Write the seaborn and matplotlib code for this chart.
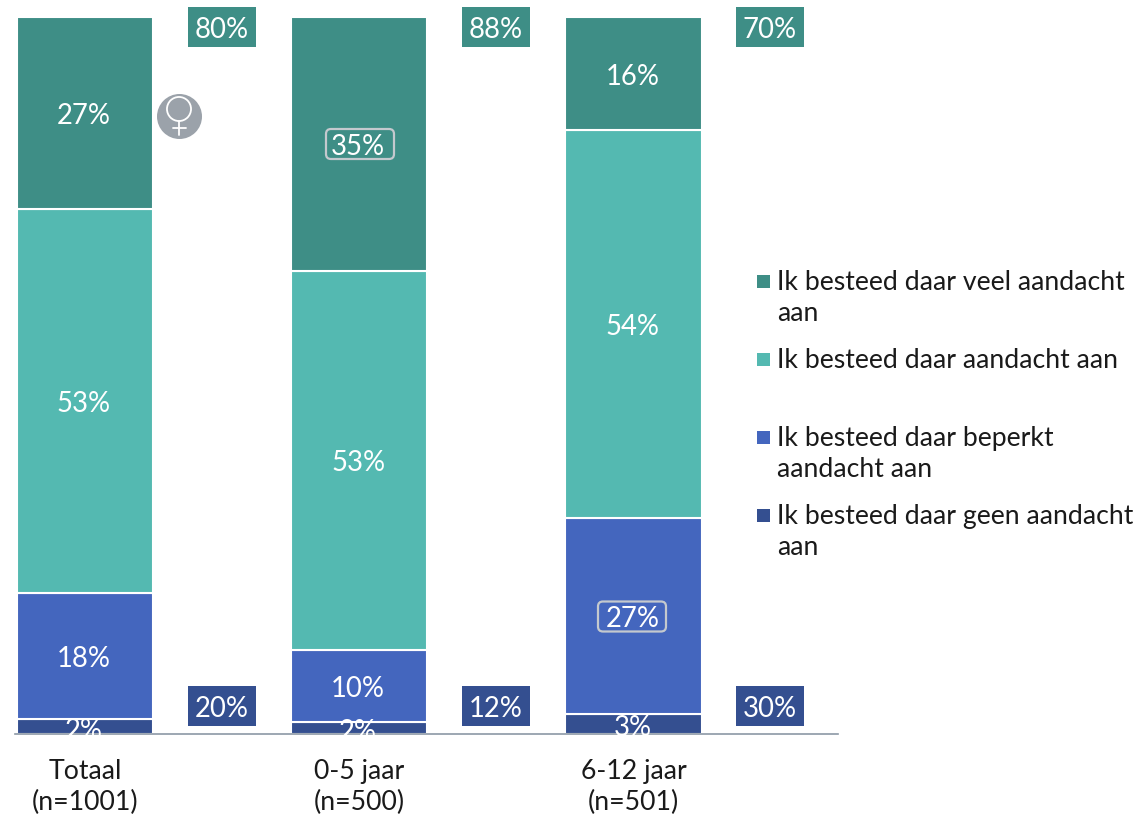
import numpy as np
import matplotlib
matplotlib.use("Agg")
import matplotlib.pyplot as plt
from matplotlib.patches import FancyBboxPatch, Rectangle
from matplotlib.transforms import IdentityTransform
import seaborn as sns

# Data (heights in %, printed labels are the rounded ones)
groups = ["Totaal\n(n=1001)", "0-5 jaar\n(n=500)", "6-12 jaar\n(n=501)"]
geen = [2.1, 1.7, 2.8]
beperkt = [17.6, 10.0, 27.3]
aandacht = [53.5, 52.9, 54.1]
veel = [26.8, 35.4, 15.8]
geen_labels = ["2%", "2%", "3%"]
beperkt_labels = ["18%", "10%", "27%"]
aandacht_labels = ["53%", "53%", "54%"]
veel_labels = ["27%", "35%", "16%"]
top_totals = ["80%", "88%", "70%"]
bottom_totals = ["20%", "12%", "30%"]
legend_labels = [
    "Ik besteed daar veel aandacht\naan",
    "Ik besteed daar aandacht aan",
    "Ik besteed daar beperkt\naandacht aan",
    "Ik besteed daar geen aandacht\naan",
]

DARK_TEAL = "#3E8E86"
TEAL = "#54B9B1"
BLUE = "#4466BE"
NAVY = "#344F90"
BADGE = "#9BA2AA"
FS = 19.2
FS_BAR = 19.8

sns.set_style("white")
plt.rcParams["font.family"] = ["Lato", "DejaVu Sans"]

W, H = 1141, 818
fig = plt.figure(figsize=(W / 100, H / 100), dpi=100)
ax = fig.add_axes([0, 0, 1, 1])

# one x unit = 274.25 px, one y unit = 7.17 px
XU, YU = 274.25, 7.17


def px(x, y):
    return (x - 85) / XU, (734 - y) / YU


# Stacked bars, bottom segment first
stack = [
    (geen, geen_labels, NAVY),
    (beperkt, beperkt_labels, BLUE),
    (aandacht, aandacht_labels, TEAL),
    (veel, veel_labels, DARK_TEAL),
]
clip = Rectangle((-1, 0), 6, 110, transform=ax.transData)
bottom = np.zeros(3)
for values, labels, color in stack:
    sns.barplot(x=groups, y=values, bottom=bottom, color=color, saturation=1,
                width=0.496, edgecolor="white", linewidth=1.5, ax=ax)
    for i, (v, lab) in enumerate(zip(values, labels)):
        ypos = bottom[i] + v / 2 - 0.4
        if v < 5:
            ypos = bottom[i] + v / 2 - 0.6
        t = ax.text(i - 0.004, ypos, lab, color="white", fontsize=FS_BAR,
                    ha="center", va="center")
        t.set_clip_path(clip)
    bottom = bottom + np.array(values)

# Restore limits after the categorical plots
ax.set_xlim(-85 / XU, (W - 85) / XU)
ax.set_ylim(-(H - 734) / YU, 734 / YU)

# Rounded outlines round the two highlighted labels (pixel sized)
for cx, cy in [(360, 144), (632, 616.5)]:
    ax.add_patch(FancyBboxPatch((cx - 30, H - cy - 11), 60, 22,
                                boxstyle="round,pad=4,rounding_size=5",
                                fc="none", ec="#C4C9CE", lw=1.6,
                                transform=IdentityTransform()))

# Summary boxes next to the bars
box_w, box_h = 68 / XU, 40 / YU
for i in range(3):
    cx = i + 0.5 - 0.002 * i
    top_y = px(0, 27)[1]
    low_y = px(0, 706)[1]
    ax.add_patch(Rectangle((cx - box_w / 2, top_y - box_h / 2), box_w, box_h,
                           fc=DARK_TEAL, ec="none"))
    ax.add_patch(Rectangle((cx - box_w / 2, low_y - box_h / 2), box_w, box_h,
                           fc=NAVY, ec="none"))
    ax.text(cx, top_y - 0.4, top_totals[i], color="white", fontsize=FS_BAR, ha="center", va="center")
    ax.text(cx, low_y - 0.4, bottom_totals[i], color="white", fontsize=FS_BAR, ha="center", va="center")

# Female badge
bx, by = px(179, 116)
ax.scatter([bx], [by], s=1050, color=BADGE, linewidths=0, zorder=3)
rx, ry = px(179, 109)
ax.scatter([rx], [ry], s=300, facecolor="none", edgecolor="white", linewidths=1.3, zorder=4)
sx0, sy0 = px(179, 121)
sx1, sy1 = px(179, 135)
ax.plot([sx0, sx1], [sy0, sy1], color="white", lw=1.3, zorder=4)
hx0, hy0 = px(173, 128)
hx1, hy1 = px(186, 128)
ax.plot([hx0, hx1], [hy0, hy1], color="white", lw=1.3, zorder=4)

# Legend, evenly spaced rows
legend_colors = [DARK_TEAL, TEAL, BLUE, NAVY]
for k, (lab, col) in enumerate(zip(legend_labels, legend_colors)):
    y = 281 + 78 * k
    sx, sy = px(757, y + 6.5)
    ax.add_patch(Rectangle((sx, sy), 13 / XU, 13 / YU, fc=col, ec="none"))
    tx, ty = px(777, y - 11)
    ax.text(tx, ty, lab, color="#1A1A1A", fontsize=FS, ha="left", va="top", linespacing=1.3)

# Baseline and category labels
for s in ["top", "left", "right"]:
    ax.spines[s].set_visible(False)
ax.spines["bottom"].set_position(("data", 0))
ax.spines["bottom"].set_bounds(px(15, 0)[0], px(838, 0)[0])
ax.spines["bottom"].set_color("#8C98A5")
ax.spines["bottom"].set_linewidth(1.2)
ax.set_yticks([])
ax.tick_params(axis="x", length=0, pad=18, labelsize=FS, labelcolor="#1A1A1A")
for lab in ax.get_xticklabels():
    lab.set_linespacing(1.3)
ax.set_xlabel("")
ax.set_ylabel("")

fig.savefig("out.png", dpi=100)
